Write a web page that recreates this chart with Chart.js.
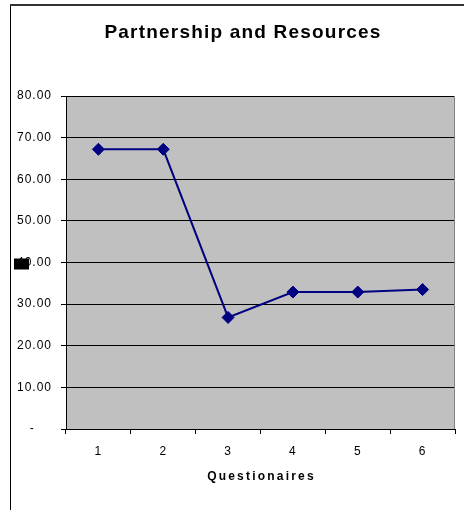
<!DOCTYPE html>
<html>
<head>
<meta charset="utf-8">
<script src="https://cdn.jsdelivr.net/npm/chart.js@4/dist/chart.umd.min.js"></script>
<style>
  html, body { margin: 0; padding: 0; background: #fff; }
  canvas { display: block; }
</style>
</head>
<body>
<canvas id="partnershipChart" width="464" height="510"></canvas>
<script>
const chartTitle = 'Partnership and Resources';
const xAxisTitle = 'Questionaires';
const questionnaires = ['1', '2', '3', '4', '5', '6'];
const scores = [67.2, 67.2, 26.8, 32.9, 32.9, 33.5];
const yTickValues = [0, 10, 20, 30, 40, 50, 60, 70, 80];

const FONT = '"Liberation Sans", Arial, sans-serif';
Chart.defaults.font.family = FONT;
Chart.defaults.color = '#000';

// Frame, grey plot background, titles and the marker block on the 40 label
const sheetPlugin = {
    id: 'sheet',
    beforeDraw(chart) {
        const ctx = chart.ctx;
        const area = chart.chartArea;
        ctx.save();
        ctx.fillStyle = '#c0c0c0';
        ctx.fillRect(area.left, area.top, area.right - area.left, area.bottom - area.top);

        // outer chart border (left and top edges)
        ctx.strokeStyle = '#000';
        ctx.lineWidth = 1;
        ctx.beginPath();
        ctx.moveTo(10.5, 5);
        ctx.lineTo(10.5, chart.height);
        ctx.stroke();
        ctx.strokeStyle = '#333';
        ctx.lineWidth = 2;
        ctx.beginPath();
        ctx.moveTo(10, 5);
        ctx.lineTo(chart.width, 5);
        ctx.stroke();
        ctx.restore();

        // spaced-out text like the spreadsheet renderer
        ctx.letterSpacing = '1px';
    },
    beforeDatasetsDraw(chart) {
        const ctx = chart.ctx;
        const area = chart.chartArea;
        ctx.save();
        ctx.strokeStyle = '#808080';
        ctx.lineWidth = 1;
        ctx.beginPath();
        ctx.moveTo(area.right - 0.5, area.top);
        ctx.lineTo(area.right - 0.5, area.bottom);
        ctx.stroke();
        ctx.restore();
    },
    afterDraw(chart) {
        const ctx = chart.ctx;
        const area = chart.chartArea;
        const yScale = chart.scales.y;
        ctx.save();
        ctx.fillStyle = '#000';
        ctx.textAlign = 'center';
        ctx.textBaseline = 'middle';

        ctx.font = 'bold 19px ' + FONT;
        ctx.letterSpacing = '1.2px';
        ctx.fillText(chartTitle, 243, 33);

        ctx.font = 'bold 12px ' + FONT;
        ctx.letterSpacing = '2.2px';
        ctx.fillText(xAxisTitle, (area.left + area.right) / 2 + 1, 477);

        const y40 = yScale.getPixelForValue(40);
        ctx.fillRect(14, y40 - 4, 15, 11);
        ctx.restore();
    }
};

new Chart(document.getElementById('partnershipChart').getContext('2d'), {
    type: 'line',
    data: {
        labels: questionnaires,
        datasets: [{
            label: chartTitle,
            data: scores,
            borderColor: '#000080',
            borderWidth: 2,
            pointStyle: 'rectRot',
            pointRadius: 6,
            pointBackgroundColor: '#000080',
            pointBorderColor: '#000080',
            pointBorderWidth: 1,
            tension: 0
        }]
    },
    options: {
        responsive: false,
        animation: false,
        layout: {
            padding: { top: 96, left: 11, right: 9, bottom: 0 }
        },
        plugins: {
            legend: { display: false },
            tooltip: { enabled: false },
            title: { display: false }
        },
        scales: {
            x: {
                type: 'category',
                offset: true,
                afterFit: function (scale) { scale.height = 81; },
                grid: {
                    offset: true,
                    drawOnChartArea: false,
                    color: '#000',
                    tickLength: 5
                },
                border: { display: true, color: '#000', width: 1 },
                ticks: {
                    font: { size: 12 },
                    padding: 10
                }
            },
            y: {
                min: 0,
                max: 80,
                afterFit: function (scale) { scale.width = 55; },
                afterBuildTicks: function (scale) {
                    scale.ticks = yTickValues.map(v => ({ value: v }));
                },
                grid: {
                    color: '#000',
                    lineWidth: 1,
                    tickLength: 5
                },
                border: { display: true, color: '#000', width: 1 },
                ticks: {
                    font: { size: 12 },
                    padding: 9,
                    callback: function (value) {
                        return value === 0 ? '-    ' : value.toFixed(2);
                    }
                }
            }
        }
    },
    plugins: [sheetPlugin]
});
</script>
</body>
</html>
